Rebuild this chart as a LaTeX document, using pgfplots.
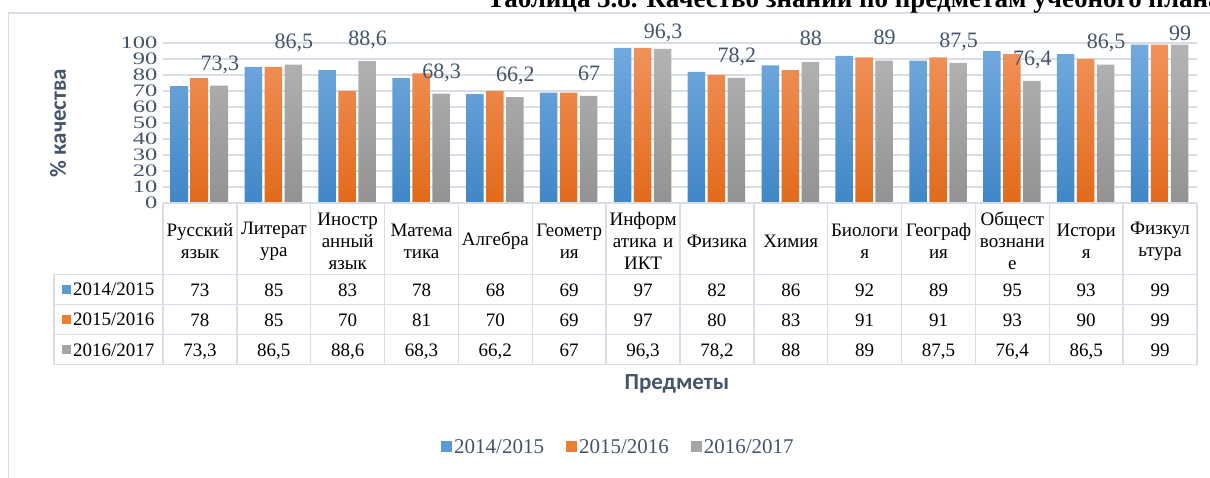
\documentclass[border=0pt]{standalone}
\usepackage{pgfplots}
\usepackage{pgfplotstable}
\pgfplotsset{compat=1.18}
\usepackage{fontspec}
\setmainfont{Liberation Serif}
\newfontfamily\calibri{Carlito}
\newfontfamily\tickfont[FakeStretch=1.4]{Liberation Serif}

\definecolor{blueA}{RGB}{91,155,213}
\definecolor{blueTop}{RGB}{114,170,222}
\definecolor{blueBot}{RGB}{64,134,199}
\definecolor{orA}{RGB}{237,125,49}
\definecolor{orTop}{RGB}{241,146,92}
\definecolor{orBot}{RGB}{226,106,26}
\definecolor{grA}{RGB}{165,165,165}
\definecolor{grTop}{RGB}{180,180,180}
\definecolor{grBot}{RGB}{146,146,146}
\definecolor{slate}{RGB}{68,84,106}
\definecolor{gridc}{RGB}{217,222,230}

\pgfplotstableread{
x v1 v2 v3 ly
0 73 78 73.3 87.8
1 85 85 86.5 101.2
2 83 70 88.6 103.1
3 78 81 68.3 82.6
4 68 70 66.2 80.6
5 69 69 67 81.3
6 97 97 96.3 107.5
7 82 80 78.2 92.7
8 86 83 88 103
9 92 91 89 103.5
10 89 91 87.5 102
11 95 93 76.4 90.9
12 93 90 86.5 101
13 99 99 99 106.5
}\data

\pgfplotsset{
  tabrow/.style={only marks, mark=*, mark size=0pt, mark options={draw=none,fill=none}, forget plot,
    point meta=explicit, nodes near coords,
    nodes near coords style={anchor=base, font=\fontsize{19}{19}\selectfont, text=black, inner sep=0pt, yshift=-6.5pt, /pgf/number format/.cd, use comma, fixed, precision=1}},
}

\begin{document}
\begin{tikzpicture}[x=1pt,y=1pt]
\useasboundingbox (0,0) rectangle (1210,-478);
% outer frame
\draw[gridc, line width=1.5pt] (8.5,-490) -- (8.5,-13) -- (1220,-13);
% cut title
\node[anchor=base east, font=\bfseries\fontsize{27}{30}\selectfont, inner sep=0pt] at (1222,-8) {Таблица 3.8. Качество знаний по предметам учебного плана};

\begin{axis}[
  at={(163pt,-203pt)}, anchor=south west,
  scale only axis, width=1034pt, height=160pt,
  xmin=-0.5, xmax=13.5, ymin=0, ymax=100,
  ytick={0,10,...,100},
  xtick={0,...,13},
  xticklabels={{Русский\\язык},{Литерат\\ура},{Иностр\\анный\\язык},{Матема\\тика},{Алгебра},{Геометр\\ия},{Информ\\атика и\\ИКТ},{Физика},{Химия},{Биологи\\я},{Географ\\ия},{Общест\\вознани\\е},{Истори\\я},{Физкул\\ьтура}},
  xticklabel style={anchor=center, yshift=-38pt, text width=74pt, align=center, font=\fontsize{19}{22}\selectfont, color=black},
  yticklabel style={font=\tickfont\fontsize{17.5}{17.5}\selectfont, color=slate, xshift=-2pt},
  /pgf/number format/assume math mode=true,
  ymajorgrids, grid style={gridc, line width=1.5pt},
  axis line style={draw=none},
  major tick length=0pt,
  clip=false,
  xlabel={Предметы},
  xlabel style={at={(axis description cs:0.497,-1.131)}, anchor=center, font=\calibri\bfseries\fontsize{23}{23}\selectfont, color=slate},
  ylabel={\% качества},
  ylabel style={at={(axis description cs:-0.1015,0.5)}, anchor=center, font=\calibri\bfseries\fontsize{23}{23}\selectfont, color=slate},
  legend image code/.code={\fill[#1] (0pt,-5pt) rectangle (11pt,6pt);},
  legend columns=3,
  legend style={at={(axis description cs:0.4405,-1.525)}, anchor=center, draw=none, fill=none, font=\fontsize{21}{21}\selectfont, text=slate, /tikz/every even column/.append style={column sep=20pt}},
]
\addplot[ybar, bar width=17.5pt, bar shift=-20.5pt, draw=none, top color=blueTop, bottom color=blueBot, forget plot] table[x=x,y=v1]{\data};
\addplot[ybar, bar width=17.5pt, bar shift=-0.5pt, draw=none, top color=orTop, bottom color=orBot, forget plot] table[x=x,y=v2]{\data};
\addplot[ybar, bar width=17.5pt, bar shift=19.5pt, draw=none, top color=grTop, bottom color=grBot, forget plot] table[x=x,y=v3]{\data};
% data labels above the 2016/2017 bars
\addplot[only marks, mark=*, mark size=0pt, mark options={draw=none,fill=none}, forget plot,
  point meta=explicit, nodes near coords,
  nodes near coords style={anchor=base, xshift=20pt, yshift=-7.5pt, inner sep=0pt, font=\fontsize{22}{22}\selectfont, text=slate, /pgf/number format/.cd, use comma, fixed, precision=1}]
  table[x=x, y=ly, meta=v3]{\data};
% data table rows
\addplot[tabrow] table[x=x, y expr=-54.4, meta=v1]{\data};
\addplot[tabrow] table[x=x, y expr=-73.1, meta=v2]{\data};
\addplot[tabrow] table[x=x, y expr=-91.9, meta=v3]{\data};
\addlegendimage{fill=blueA, draw=none}
\addlegendentry{2014/2015}
\addlegendimage{fill=orA, draw=none}
\addlegendentry{2015/2016}
\addlegendimage{fill=grA, draw=none}
\addlegendentry{2016/2017}
\end{axis}

% data table grid
\begin{scope}[gridc, line width=1.5pt]
\draw (163,-203) -- (1197,-203);
\foreach \yy in {274.5,304.5,334.5,364.5} \draw (54,-\yy) -- (1197,-\yy);
\draw (54,-274.5) -- (54,-364.5);
\foreach \k in {0,...,14} \draw ({163+\k*73.857},-203) -- ({163+\k*73.857},-364.5);
\end{scope}
% row headers
\foreach \yy/\cc/\tt in {289.5/blueA/2014\slash 2015, 319.5/orA/2015\slash 2016, 349.5/grA/2016\slash 2017}{
  \fill[\cc] (62,-\yy-4.5) rectangle (71,-\yy+4.5);
  \node[anchor=base west, inner sep=0pt, font=\fontsize{19}{19}\selectfont] at (73,-\yy-6.5) {\tt};
}
\end{tikzpicture}
\end{document}
